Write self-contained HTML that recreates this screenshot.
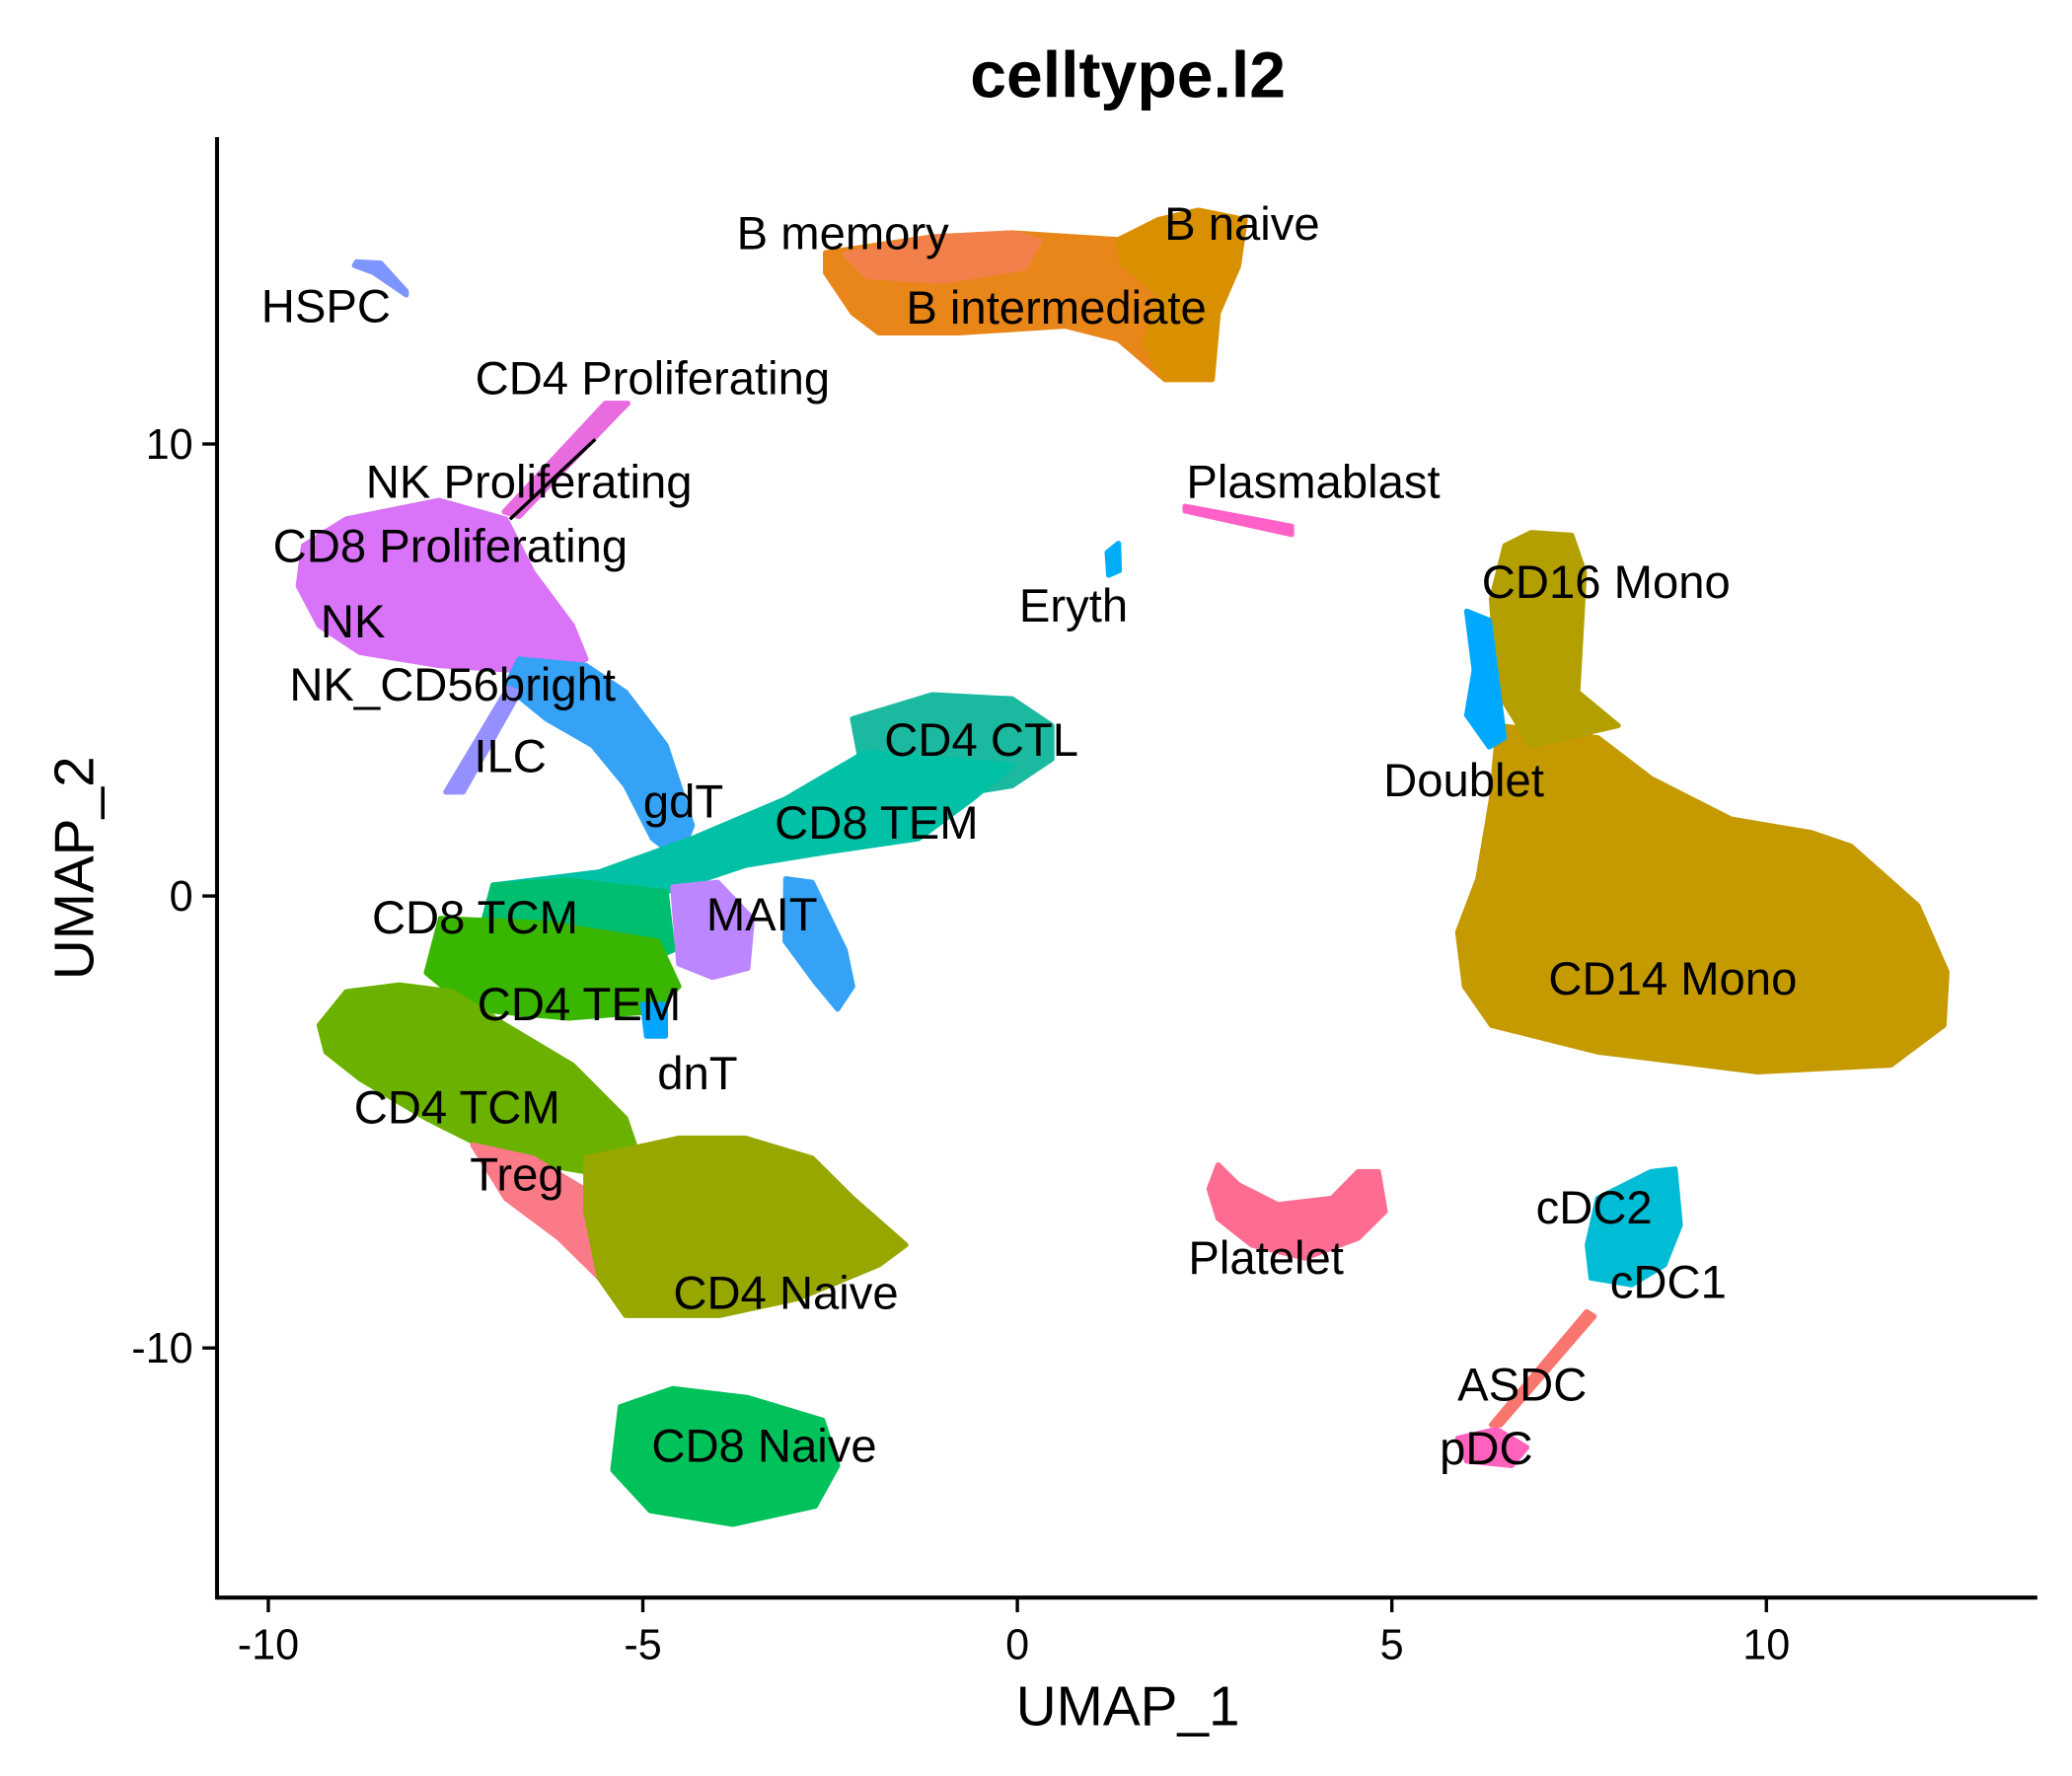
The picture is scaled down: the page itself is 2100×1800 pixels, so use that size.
<!DOCTYPE html>
<html><head><meta charset="utf-8"><style>
html,body{margin:0;padding:0;background:#fff}
svg{display:block}
text{font-family:"Liberation Sans",sans-serif}
</style></head><body>
<svg id="chart" width="2100" height="1800" viewBox="0 0 1556 1334" preserveAspectRatio="none" xmlns="http://www.w3.org/2000/svg">
<rect width="1556" height="1334" fill="#fff"/>
<text x="847" y="73" text-anchor="middle" font-size="49" font-weight="bold">celltype.l2</text>
<g id="clusters"></g>
<g id="labels"></g>
<g id="axes"></g>
<text x="847" y="1296" text-anchor="middle" font-size="42">UMAP_1</text>
<text transform="translate(70,652) rotate(-90)" text-anchor="middle" font-size="42">UMAP_2</text>
</svg>
<script>
const xTicks=[-10,-5,0,5,10];
const yTicks=[-10,0,10];
const clusterNames=["B intermediate","B memory","B naive","Plasmablast","Eryth","HSPC","CD4 Proliferating","NK","gdT","ILC","CD14 Mono","CD16 Mono","CD4 CTL","CD8 TEM","CD8 TCM","CD4 TEM","MAIT","gdT spur","dnT","CD4 TCM","Treg","CD4 Naive","CD8 Naive","Platelet","cDC2","ASDC","pDC","Doublet"];
const clusterColors=["#E8861A","#F2804A","#D89000","#FF61C9","#00AEF8","#7D96FF","#E96BE0","#D973F7","#35A2F5","#9590FF","#C49A00","#B3A000","#1BB99F","#00C0A5","#00BE70","#39B600","#BB86FF","#35A2F5","#00A5FF","#6BB100","#FB7A88","#97A700","#00C15A","#FF6C91","#00BCD4","#F8766D","#FF62BC","#00A9FF"];
const clusterOutlines=[
[[-2.56,14.23],[-1.14,14.58],[-0.07,14.67],[1.35,14.52],[1.88,14.96],[2.42,15.17],[3.04,14.96],[2.95,13.93],[2.68,12.9],[2.6,11.43],[1.97,11.43],[1.35,12.31],[0.64,12.61],[-0.78,12.46],[-1.85,12.46],[-2.2,12.9],[-2.56,13.79]],
[[-2.3,14.2],[-1.14,14.58],[-0.07,14.67],[0.3,14.5],[0.1,13.9],[-1.0,13.6],[-2.0,13.7]],
[[1.35,14.52],[1.88,14.96],[2.42,15.17],[3.04,14.96],[2.95,13.93],[2.68,12.9],[2.6,11.43],[1.97,11.43],[1.7,12.2],[1.9,13.3],[1.4,14.0]],
[[2.24,8.62],[2.24,8.52],[3.66,8.0],[3.66,8.18]],
[[1.2,7.6],[1.35,7.8],[1.36,7.2],[1.22,7.1]],
[[-8.82,14.03],[-8.5,14.0],[-8.16,13.38],[-8.16,13.3],[-8.6,13.8],[-8.85,13.95]],
[[-6.85,8.5],[-5.5,10.9],[-5.2,10.9],[-5.32,10.7],[-6.65,8.4]],
[[-9.53,7.75],[-8.96,8.34],[-7.72,8.75],[-6.83,8.34],[-6.47,7.16],[-5.94,5.98],[-5.76,5.24],[-6.29,4.95],[-7.72,5.1],[-8.78,5.39],[-9.32,5.98],[-9.6,6.86]],
[[-6.65,5.24],[-5.76,5.1],[-5.23,4.51],[-4.69,3.33],[-4.34,1.56],[-4.52,0.82],[-4.87,1.27],[-5.23,2.44],[-5.67,3.33],[-6.29,3.92],[-6.83,4.65]],
[[-7.63,2.3],[-7.4,2.3],[-6.65,4.51],[-6.8,4.6]],
[[6.42,3.77],[7.75,3.5],[8.46,2.6],[9.53,1.7],[10.6,1.4],[11.13,1.1],[12.02,-0.21],[12.41,-1.68],[12.37,-2.86],[11.66,-3.74],[9.88,-3.89],[7.75,-3.45],[6.33,-2.86],[5.97,-2.0],[5.88,-0.8],[6.15,0.38],[6.33,2.15]],
[[6.51,7.75],[6.86,8.04],[7.4,7.98],[7.57,7.16],[7.48,4.51],[8.02,3.77],[6.86,3.33],[6.42,4.51],[6.33,6.57]],
[[-2.2,3.92],[-1.14,4.45],[-0.07,4.36],[0.46,3.77],[0.46,3.03],[-0.07,2.44],[-1.14,2.15],[-2.03,2.44]],
[[-7.0,0.24],[-5.58,0.53],[-4.34,1.27],[-3.09,2.15],[-2.03,3.18],[-0.07,2.89],[-0.6,2.15],[-1.32,1.27],[-2.56,0.97],[-3.63,0.68],[-4.69,0.09],[-5.58,-0.5],[-6.83,-0.5]],
[[-7.0,0.24],[-6.0,0.35],[-4.69,0.09],[-4.6,-1.2],[-5.3,-1.68],[-6.5,-1.6],[-7.2,-1.0]],
[[-7.7,-0.5],[-6.3,-0.6],[-4.8,-1.0],[-4.52,-2.0],[-4.87,-2.56],[-6.0,-2.7],[-7.3,-2.5],[-7.89,-1.7]],
[[-4.6,0.2],[-4.0,0.3],[-3.54,-0.5],[-3.6,-1.6],[-4.07,-1.8],[-4.52,-1.5]],
[[-3.09,0.38],[-2.74,0.3],[-2.3,-1.2],[-2.2,-2.0],[-2.4,-2.5],[-2.7,-1.9],[-3.1,-1.0]],
[[-5.0,-2.4],[-4.7,-2.4],[-4.7,-3.1],[-4.95,-3.1]],
[[-9.32,-2.86],[-8.96,-2.12],[-8.25,-1.97],[-7.54,-2.12],[-6.83,-2.86],[-5.94,-3.74],[-5.23,-4.92],[-5.05,-5.8],[-5.76,-6.1],[-6.83,-5.8],[-7.89,-4.92],[-8.78,-4.04],[-9.23,-3.45]],
[[-7.27,-5.51],[-6.47,-5.8],[-5.58,-6.69],[-5.23,-8.16],[-5.58,-8.45],[-6.12,-7.57],[-6.83,-6.69]],
[[-5.76,-5.8],[-4.52,-5.36],[-3.63,-5.36],[-2.74,-5.8],[-2.2,-6.69],[-1.49,-7.72],[-1.85,-8.16],[-2.92,-8.9],[-3.98,-9.28],[-5.23,-9.28],[-5.58,-8.45],[-5.76,-6.98]],
[[-5.3,-11.3],[-4.6,-10.9],[-3.6,-11.1],[-2.6,-11.6],[-2.4,-12.6],[-2.7,-13.5],[-3.8,-13.9],[-4.9,-13.6],[-5.4,-12.7]],
[[2.68,-5.95],[2.95,-6.39],[3.48,-6.83],[4.2,-6.69],[4.55,-6.1],[4.82,-6.1],[4.91,-6.98],[4.55,-7.57],[3.84,-8.01],[3.13,-7.72],[2.68,-7.13],[2.56,-6.48]],
[[7.75,-6.69],[8.46,-6.1],[8.78,-6.04],[8.85,-7.28],[8.64,-8.16],[8.2,-8.6],[7.66,-8.45],[7.61,-7.72]],
[[6.33,-11.7],[6.45,-11.7],[7.7,-9.3],[7.6,-9.2]],
[[5.88,-12.0],[6.4,-11.8],[6.8,-12.2],[6.6,-12.6],[6.0,-12.5]],
[[6.0,6.3],[6.3,6.1],[6.5,3.5],[6.3,3.3],[6.0,4.0],[6.1,5.0]]
];
const labelNames=["HSPC","B memory","B naive","B intermediate","CD4 Proliferating","NK Proliferating","CD8 Proliferating","NK","NK_CD56bright","ILC","gdT","Plasmablast","Eryth","CD16 Mono","Doublet","CD4 CTL","CD8 TEM","MAIT","CD8 TCM","CD4 TEM","dnT","CD14 Mono","CD4 TCM","Treg","cDC2","Platelet","cDC1","CD4 Naive","ASDC","pDC","CD8 Naive"];
const labelX=[-9.23,-2.33,3.0,0.52,-4.87,-6.52,-7.57,-8.87,-7.54,-6.77,-4.46,3.95,0.75,7.86,5.96,-0.48,-1.88,-3.41,-7.24,-5.85,-4.27,8.75,-7.48,-6.68,7.7,3.32,8.69,-3.09,6.74,6.26,-3.38];
const labelY=[13.05,14.67,14.87,13.02,11.46,9.16,7.75,6.07,4.68,3.09,2.09,9.16,6.42,6.95,2.56,3.45,1.62,-0.41,-0.47,-2.39,-3.92,-1.83,-4.68,-6.16,-6.89,-8.01,-8.54,-8.78,-10.81,-12.22,-12.16];

const NS="http://www.w3.org/2000/svg";
const sx=v=>764+v*56.25;
const sy=v=>673-v*33.95;
const cg=document.getElementById('clusters');
clusterOutlines.forEach((poly,i)=>{
  const p=document.createElementNS(NS,'polygon');
  p.setAttribute('points',poly.map(pt=>sx(pt[0])+','+sy(pt[1])).join(' '));
  p.setAttribute('fill',clusterColors[i]);
  p.setAttribute('stroke',clusterColors[i]);
  p.setAttribute('stroke-width','4');
  p.setAttribute('stroke-linejoin','round');
  
  
  cg.appendChild(p);
});
const lg=document.getElementById('labels');
const ln=document.createElementNS(NS,'line');
ln.setAttribute('x1',383);ln.setAttribute('y1',390);ln.setAttribute('x2',447);ln.setAttribute('y2',330);
ln.setAttribute('stroke','#000');ln.setAttribute('stroke-width','2.5');


lg.appendChild(ln);
labelNames.forEach((n,i)=>{
  const t=document.createElementNS(NS,'text');
  t.setAttribute('x',sx(labelX[i]));t.setAttribute('y',sy(labelY[i])+12);
  t.setAttribute('text-anchor','middle');t.setAttribute('font-size','35');
  t.textContent=n;
  
  
  lg.appendChild(t);
});
const ag=document.getElementById('axes');
function mk(tag,attrs){const e=document.createElementNS(NS,tag);for(const k in attrs)e.setAttribute(k,attrs[k]);ag.appendChild(e);return e;}
const xa=mk('line',{x1:163,y1:1200,x2:1530,y2:1200,stroke:'#000','stroke-width':3});


const ya=mk('line',{x1:163,y1:103,x2:163,y2:1201.5,stroke:'#000','stroke-width':3});


xTicks.forEach(v=>{
  const tk=mk('line',{x1:sx(v),y1:1200,x2:sx(v),y2:1211,stroke:'#000','stroke-width':2.5});
  
  
  const t=mk('text',{x:sx(v),y:1246,'text-anchor':'middle','font-size':32,fill:'#000'});
  t.textContent=v;
  
  
});
yTicks.forEach(v=>{
  const tk=mk('line',{x1:152,y1:sy(v),x2:163,y2:sy(v),stroke:'#000','stroke-width':2.5});
  
  
  const t=mk('text',{x:145,y:sy(v)+11,'text-anchor':'end','font-size':32,fill:'#000'});
  t.textContent=v;
  
  
});
</script>
</body></html>
